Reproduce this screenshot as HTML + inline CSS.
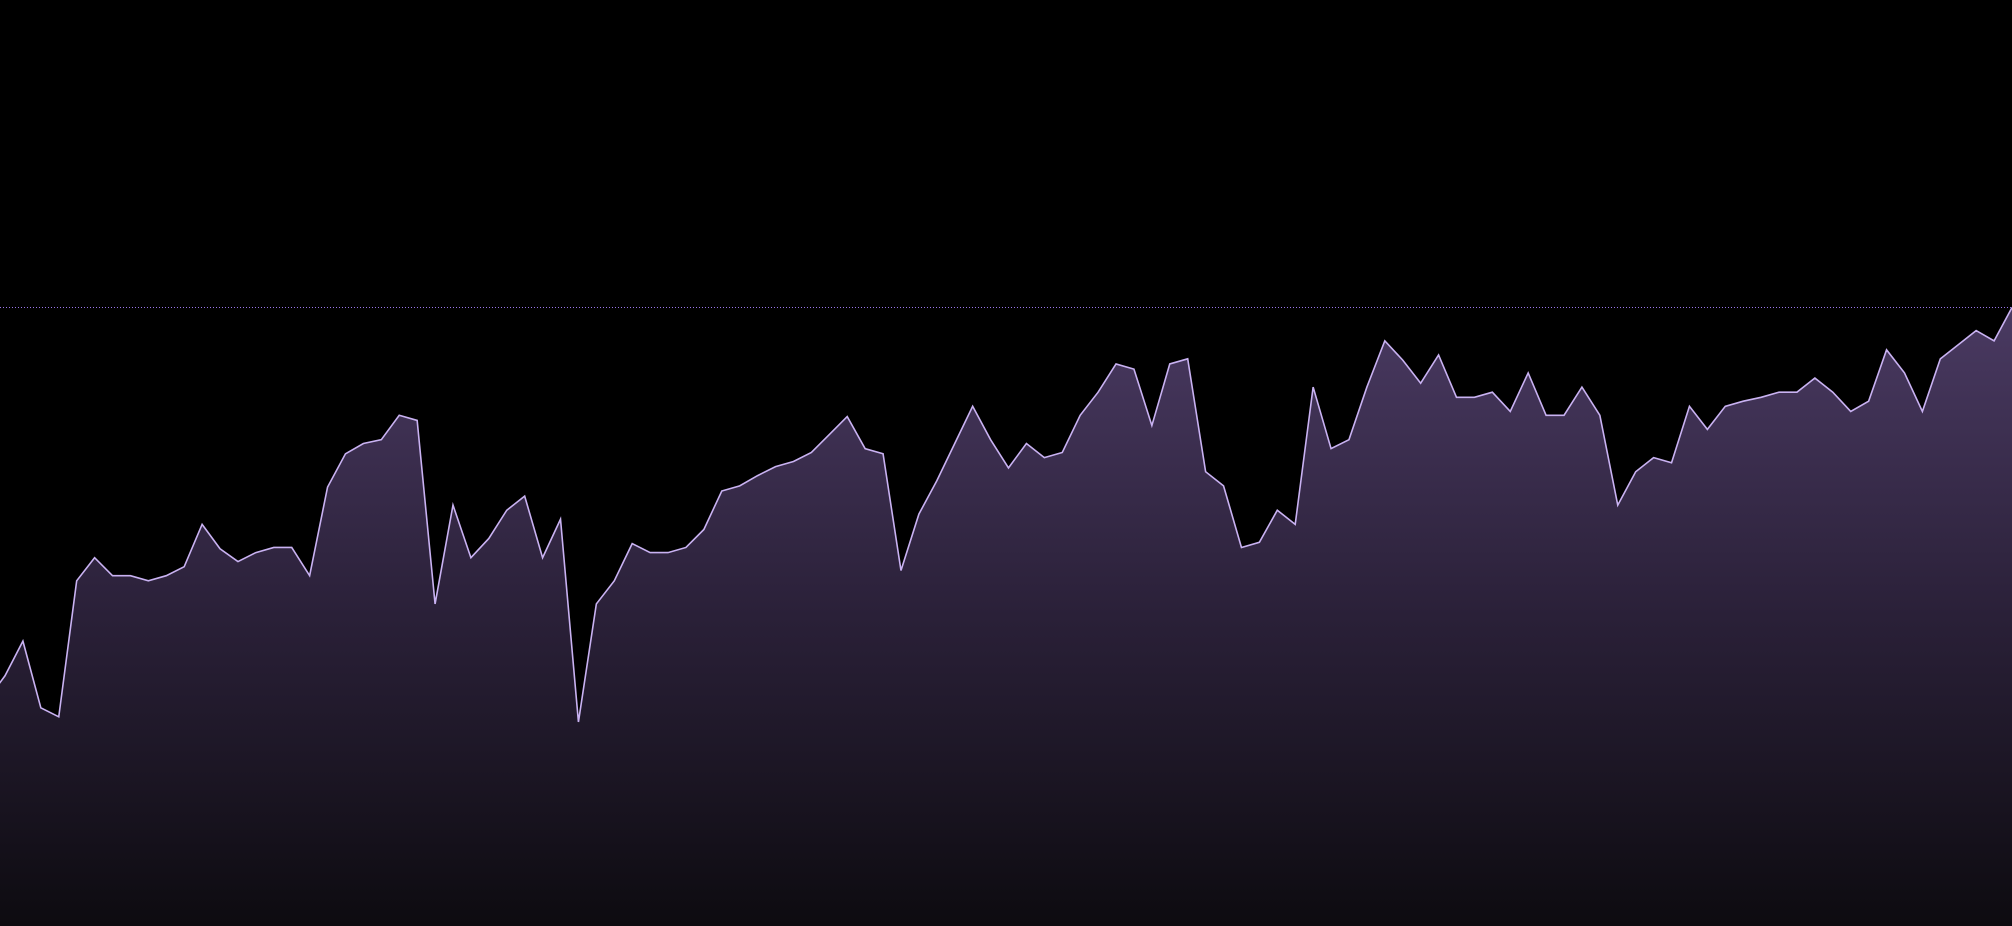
<!DOCTYPE html>
<html><head><meta charset="utf-8">
<style>
html,body{margin:0;padding:0;background:#000;}
svg{display:block;}
</style></head>
<body>
<svg id="chart" width="2012" height="926" viewBox="0 0 2012 926" xmlns="http://www.w3.org/2000/svg">
<defs>
<linearGradient id="fillGrad" x1="0" y1="0" x2="0" y2="1">
<stop offset="0" stop-color="#4a3a62"/>
<stop offset="0.5" stop-color="#2a2038"/>
<stop offset="1" stop-color="#0d0b10"/>
</linearGradient>
</defs>
<g id="plot"></g>
</svg>
<script>
const values = [176,195,222,170,163,269,287,273,273,269,273,280,313,294,284,291,295,295,273,342,368,376,379,398,394,251,328,287,302,324,335,287,317,159,251,269,298,291,291,295,309,339,343,351,358,362,369,383,397,372,368,277,321,347,376,405,379,357,376,365,369,398,416,438,434,390,438,442,354,343,295,299,324,313,420,372,379,420,456,441,423,445,412,412,416,401,431,398,398,420,398,328,354,365,361,405,387,405,409,412,416,416,427,416,401,409,449,431,401,442,453,464,456,482];
const n = values.length;
function xScale(i){ return 5 + (i-1)*(2012-5)/(n-2); }
function yScale(v){ return 926 - v*1.2832; }
const NS = "http://www.w3.org/2000/svg";
const g = document.getElementById('plot');
const maxV = Math.max(...values);
let pts = values.map((v,i)=>xScale(i).toFixed(2)+','+yScale(v).toFixed(2));
const area = document.createElementNS(NS,'path');
area.setAttribute('d','M'+xScale(0)+',926 L'+pts.join(' L')+' L'+xScale(n-1)+',926 Z');
area.setAttribute('fill','url(#fillGrad)');


g.appendChild(area);
const maxLine = document.createElementNS(NS,'line');
maxLine.setAttribute('x1',0);maxLine.setAttribute('x2',2012);
maxLine.setAttribute('y1',yScale(maxV));maxLine.setAttribute('y2',yScale(maxV));
maxLine.setAttribute('stroke','#9a74ea');maxLine.setAttribute('stroke-width','1');
maxLine.setAttribute('stroke-dasharray','1,2');


g.appendChild(maxLine);
const line = document.createElementNS(NS,'polyline');
line.setAttribute('points',pts.join(' '));
line.setAttribute('fill','none');line.setAttribute('stroke','#c9b2f2');
line.setAttribute('stroke-width','1.6');line.setAttribute('stroke-linejoin','miter');


g.appendChild(line);
</script>
</body></html>
